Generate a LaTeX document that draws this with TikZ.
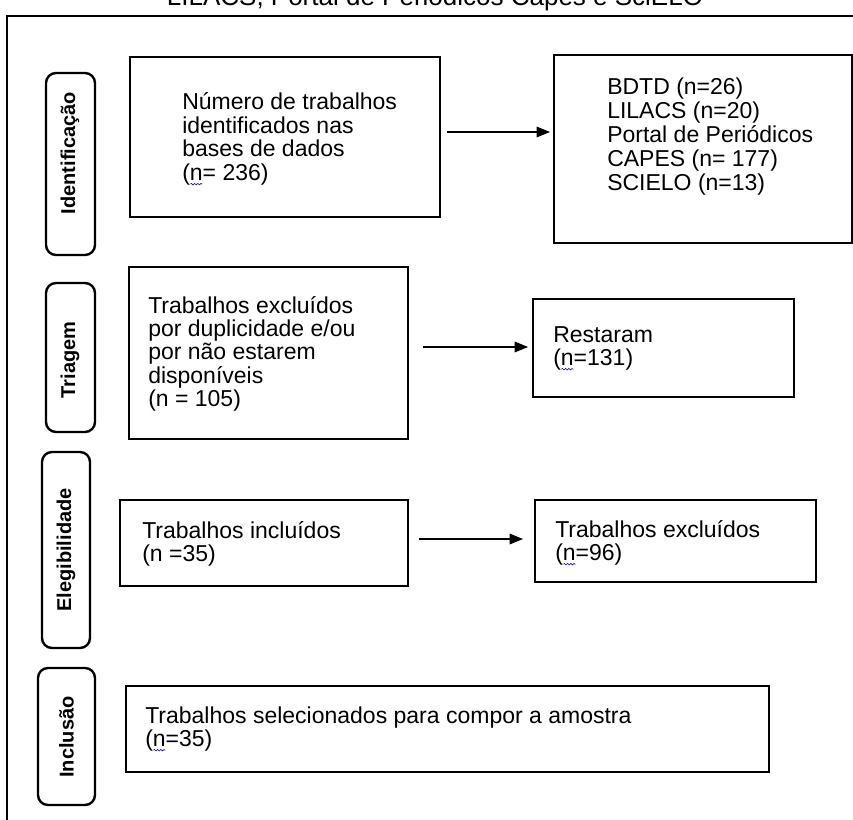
\documentclass[tikz,border=0pt]{standalone}
\usepackage{fontspec}
\setmainfont{Liberation Sans}
\usetikzlibrary{arrows.meta,fit,decorations.pathmorphing}
\newcommand\ml[1]{\vtop{\baselineskip=17.6pt\lineskiplimit=-50pt\lineskip=0pt #1}}
\newcommand\sqn{n\llap{\tikz[baseline=0pt]\draw[blue!85!black,line width=0.45pt,decorate,decoration={snake,amplitude=0.55pt,segment length=2.4pt}] (0.3pt,-2.8pt) -- (9.3pt,-2.8pt);}}
\begin{document}
\begin{tikzpicture}[x=0.75pt,y=-0.75pt,
  box/.style={draw, line width=2pt, inner sep=0pt},
  pill/.style={draw, line width=1.8pt, rounded corners=7.5pt, inner sep=0pt},
  lab/.style={font=\fontsize{15pt}{18pt}\selectfont\bfseries, rotate=90, inner sep=0pt},
  txt/.style={anchor=base west, inner sep=0pt, font=\fontsize{17.25pt}{17.6pt}\selectfont},
  arr/.style={line width=0.8pt, -{Triangle[length=10pt,width=8pt]}}]
\useasboundingbox (0,0) rectangle (853,820);
\clip (0,0) rectangle (853,820);
% title (cut off at top)
\node[font=\fontsize{19.5pt}{20pt}\selectfont, anchor=base, inner sep=0pt] (title) at (435,6) {LILACS, Portal de Periódicos Capes e SciELO};
% outer frame
\draw[line width=1.5pt] (7,840) -- (7,16) -- (870,16);
% stage pills
\node[pill, fit={(46,73) (95,255)}] (pI) {};
\node[pill, fit={(46,283) (95,432)}] (pT) {};
\node[pill, fit={(42,452) (90,648)}] (pE) {};
\node[pill, fit={(38,668) (95,805)}] (pN) {};
\node[lab] (lI) at (70,153) {Identificação};
\node[lab] (lT) at (70,360) {Triagem};
\node[lab] (lE) at (66,550) {Elegibilidade};
\node[lab] (lN) at (66.5,737) {Inclusão};
% boxes
\node[box, fit={(130,57) (440,217)}] (b1) {};
\node[box, fit={(554,55) (852,243)}] (b2) {};
\node[box, fit={(129,267) (408,439)}] (t1) {};
\node[box, fit={(533,299) (794,397)}] (t2) {};
\node[box, fit={(120,500) (408,586)}] (e1) {};
\node[box, fit={(535,500) (816,582)}] (e2) {};
\node[box, fit={(126,686) (769,772)}] (i1) {};
% texts
\node[txt] (b1t) at (182,110) {\ml{\hbox{Número de trabalhos}\hbox{identificados nas}\hbox{bases de dados}\hbox{(\sqn= 236)}}};
\node[txt] (b2t) at (607,95) {\vtop{\baselineskip=18pt\lineskiplimit=-50pt\hbox{BDTD (n=26)}\hbox{LILACS (n=20)}\hbox{Portal de Periódicos}\hbox{CAPES (n= 177)}\hbox{SCIELO (n=13)}}};
\node[txt] (t1t) at (148,313) {\ml{\hbox{Trabalhos excluídos}\hbox{por duplicidade e/ou}\hbox{por não estarem}\hbox{disponíveis}\hbox{(n = 105)}}};
\node[txt] (t2t) at (553,342) {\ml{\hbox{Restaram}\hbox{(\sqn=131)}}};
\node[txt] (e1t) at (142,538) {\ml{\hbox{Trabalhos incluídos}\hbox{(n =35)}}};
\node[txt] (e2t) at (555,537) {\ml{\hbox{Trabalhos excluídos}\hbox{(\sqn=96)}}};
\node[txt] (i1t) at (145,723) {\ml{\hbox{Trabalhos selecionados para compor a amostra}\hbox{(\sqn=35)}}};
% arrows
\coordinate (a1s) at (447,132); \coordinate (a1e) at (550,132);
\coordinate (a2s) at (423,347); \coordinate (a2e) at (528,347);
\coordinate (a3s) at (419,539); \coordinate (a3e) at (523,539);
\draw[arr] (a1s) -- (a1e);
\draw[arr] (a2s) -- (a2e);
\draw[arr] (a3s) -- (a3e);
\end{tikzpicture}
\end{document}
